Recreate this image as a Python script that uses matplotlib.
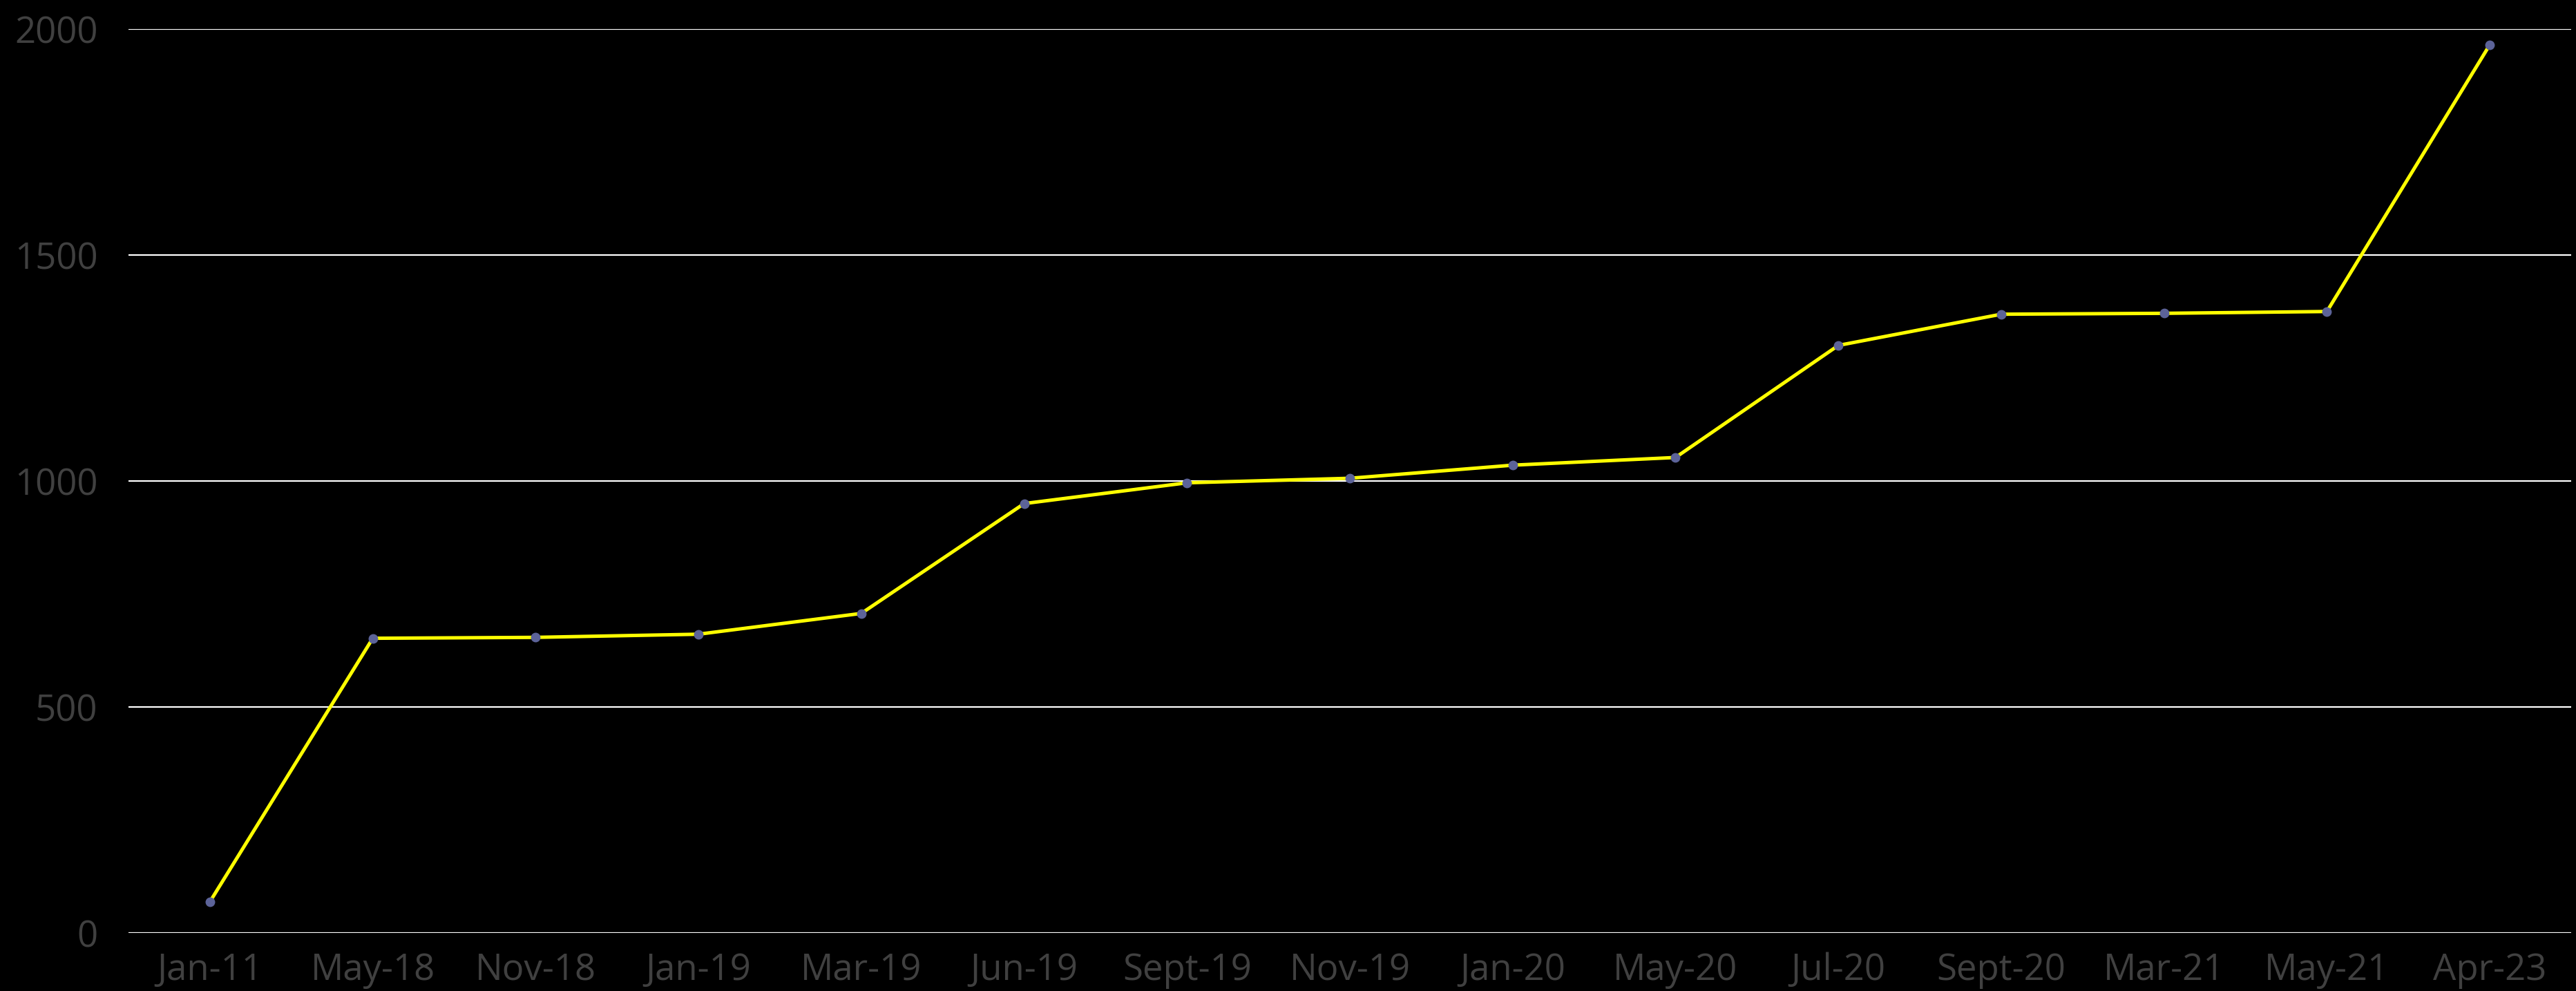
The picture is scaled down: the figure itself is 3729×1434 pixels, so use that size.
# Line chart: yellow line on black, white horizontal gridlines

import matplotlib
matplotlib.use('Agg')
import matplotlib.pyplot as plt

# Data
months = ['Jan-11', 'May-18', 'Nov-18', 'Jan-19', 'Mar-19', 'Jun-19', 'Sept-19', 'Nov-19',
          'Jan-20', 'May-20', 'Jul-20', 'Sept-20', 'Mar-21', 'May-21', 'Apr-23']
values = [69, 652, 654, 661, 707, 950, 996, 1006, 1035, 1052, 1300, 1369, 1371, 1375, 1965]
y_ticks = [0, 500, 1000, 1500, 2000]

plt.rcParams['font.family'] = ['Open Sans', 'DejaVu Sans']

fig = plt.figure(figsize=(37.29, 14.34), dpi=100, facecolor='black')
ax = fig.add_axes([186 / 3729, 84 / 1434, 3536 / 3729, 1308 / 1434])
ax.set_facecolor('black')

x = list(range(len(months)))
ax.plot(x, values, color='#FFFF00', linewidth=3.6, zorder=3,
        marker='o', markersize=9, markerfacecolor='#5C6399', markeredgecolor='#5C6399')

ax.set_xlim(-0.5, len(months) - 0.5)
ax.set_ylim(0, 2000)
ax.set_xticks(x)
ax.set_xticklabels(months)
ax.set_yticks(y_ticks)

# Gridlines and axis styling
ax.yaxis.grid(True, color='white', linewidth=1.6)
ax.set_axisbelow(True)
for s in ax.spines.values():
    s.set_visible(False)
ax.tick_params(axis='both', length=0, labelsize=38, colors='#404040')
ax.tick_params(axis='y', pad=32)
ax.tick_params(axis='x', pad=20)

fig.savefig('out.png', dpi=100, facecolor='black')
